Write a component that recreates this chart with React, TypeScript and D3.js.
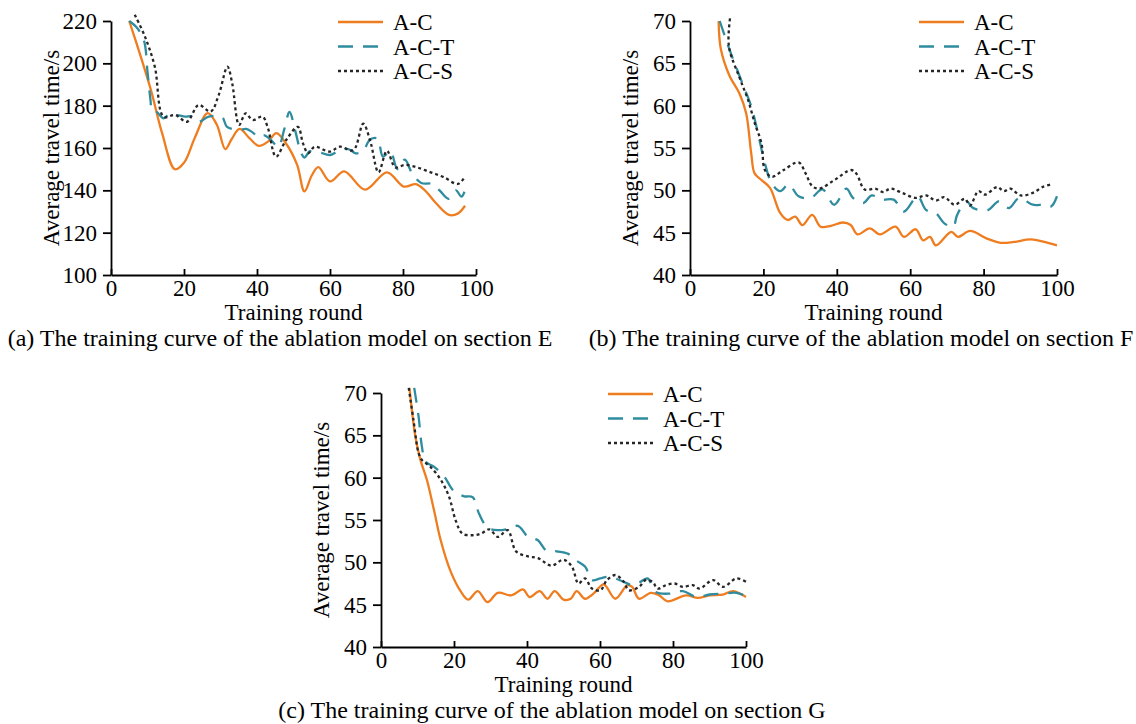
import { useEffect, useRef } from 'react'
import * as d3 from 'd3'

type Pt = [number, number]

const seriesNames = ['A-C', 'A-C-T', 'A-C-S']
const xTicks = [0, 20, 40, 60, 80, 100]
const yTicksE = [100, 120, 140, 160, 180, 200, 220]
const yTicksFG = [40, 45, 50, 55, 60, 65, 70]

// section E
const acE: Pt[] = [[5, 220], [8, 204], [11, 187], [14, 167], [17.5, 150], [20, 153], [23, 165], [26.5, 176.5], [29, 171], [31.3, 159.5], [33, 164], [35.2, 169], [38, 164.5], [40.5, 161], [43, 163], [45.3, 167], [48, 162], [51, 152], [53, 139.5], [55, 147], [56.8, 151], [60, 144.2], [63.9, 149], [69.6, 140.3], [75.6, 148.5], [80.2, 141.8], [83.5, 142.9], [86, 140], [89, 134], [92.6, 128.4], [95, 129], [97, 132.7]]
const actE: Pt[] = [[5, 220], [7, 217], [9, 211], [10, 196], [10.8, 183], [11.3, 177.5], [12.5, 177], [14.4, 174], [16, 176], [18, 175.6], [20.4, 174.8], [22, 175], [24, 172.4], [26.8, 174.8], [30.4, 174.6], [31.8, 170], [35, 168.5], [37, 169], [38.7, 167.5], [40.6, 165], [42, 166], [44, 163.5], [45.8, 160.5], [47.5, 169], [48.9, 177], [50.5, 168], [52, 158], [53, 155.5], [54.5, 158.5], [57, 158], [60, 156.7], [62.7, 159], [65, 159.5], [67, 157.5], [69, 158.5], [71, 164], [73, 164.5], [74.5, 156], [76.5, 158.5], [78.5, 150], [80.5, 154.5], [82.5, 148], [85, 143.5], [88, 143], [90, 140], [92.5, 136], [94.5, 140], [96, 137], [97, 140]]
const acsE: Pt[] = [[6.5, 223], [9.3, 212.6], [12, 198.4], [14.4, 174.8], [17.6, 175.6], [20.8, 172.4], [24, 180.3], [27.3, 177.2], [29.5, 185], [31.9, 198.4], [33.2, 190.6], [35.1, 170.9], [36.9, 176.4], [38.8, 173.2], [41.5, 174.8], [42.9, 170], [45.2, 155.9], [48, 163.8], [51.2, 170], [52.6, 162.2], [54, 157.5], [55.8, 160.6], [59.9, 158.3], [62.7, 160.6], [66.4, 159], [69.1, 171.5], [71, 163.5], [73.3, 148.5], [75.6, 158.7], [77.9, 150.8], [80.5, 152], [83.9, 150.8], [87.6, 148.5], [91.2, 146.2], [95, 143], [96.8, 146]]

// section F
const acF: Pt[] = [[7.8, 70], [8.4, 66.7], [10.7, 63.6], [13.5, 61.4], [15.3, 59.1], [16.7, 54.3], [17.6, 52], [19.5, 51.2], [21.8, 50.3], [24.6, 47.3], [26.6, 46.5], [28.7, 46.9], [30.6, 45.9], [33.3, 47.1], [35.6, 45.7], [38.4, 45.8], [41.6, 46.2], [43.8, 45.9], [45.6, 44.8], [49, 45.5], [51.8, 44.8], [56, 45.7], [58.3, 44.5], [61.5, 45.4], [63.5, 44.1], [65.4, 44.5], [67, 43.5], [71.2, 45.1], [73, 44.5], [76.3, 45.2], [80.9, 44.3], [84.6, 43.8], [88.3, 43.9], [92.9, 44.2], [97.5, 43.8], [100, 43.5]]
const actF: Pt[] = [[8.1, 70], [10.7, 66.7], [14.4, 62.5], [16.7, 59.9], [19, 55.8], [20.4, 53.2], [22.3, 50.8], [24.6, 49.9], [26.9, 50.7], [29.6, 49.3], [32.9, 49.1], [36.1, 50.1], [39.3, 48.3], [42.6, 50.2], [44.4, 49.1], [47.2, 48.5], [49.5, 49.4], [52.3, 48.9], [55.5, 48.9], [58.3, 47.5], [62, 49.3], [64.3, 47.7], [67, 47.3], [69.3, 46.1], [71.7, 45.7], [72.8, 47.1], [75.3, 48.7], [77.2, 47.9], [81.3, 47.7], [84.1, 48.7], [86.9, 47.9], [89.7, 49.1], [93.4, 48.3], [96.6, 48.3], [98.4, 48.1], [100, 49.3]]
const acsF: Pt[] = [[10.9, 70.3], [10.6, 67], [13.5, 63.3], [15.8, 60.7], [17.6, 58], [19.5, 55.5], [20.4, 52.4], [22.3, 51.6], [25.5, 52.4], [29.6, 53.3], [31.5, 52], [33.3, 50.5], [35.2, 50.2], [39.3, 51.2], [43.9, 52.4], [45.3, 52], [47.6, 50.1], [50.4, 50.2], [52.7, 49.8], [54.6, 50.2], [57.8, 49.7], [61.5, 49.1], [64.3, 49.4], [67, 48.8], [69.3, 49.2], [72.1, 48.3], [74.9, 49], [76.3, 48.2], [78.6, 49.9], [80.4, 49.5], [83.7, 50.4], [85.5, 49.9], [87.3, 50.2], [90.1, 49.4], [93.4, 49.7], [96.1, 50.4], [98.4, 50.7]]

// section G
const acG: Pt[] = [[7.8, 70.6], [9.4, 64.9], [10.8, 62.1], [12.6, 59.7], [14.5, 56.2], [16.3, 52.7], [19.1, 48.9], [21.8, 46.6], [23.9, 45.6], [26.5, 46.6], [29.2, 45.3], [32, 46.4], [35.7, 46.1], [38.9, 46.8], [40.7, 45.9], [43.5, 46.6], [45.6, 45.7], [47.6, 46.6], [50, 45.6], [52, 45.7], [53.6, 46.6], [55.9, 45.7], [58.2, 46.3], [61, 47.4], [64.2, 45.7], [67.5, 47.3], [68.8, 47.1], [70.7, 45.7], [73.9, 46.4], [76.2, 46.1], [78.5, 45.4], [83.6, 46.1], [86.8, 45.8], [90, 46.1], [93.7, 46.2], [96.5, 46.6], [100, 45.9]]
const actG: Pt[] = [[9.1, 70.6], [10.3, 67.2], [11.2, 63.7], [12.2, 61.9], [14.5, 61.3], [17.2, 60.2], [20, 58.4], [22.8, 57.8], [25.1, 57.7], [26.9, 55.7], [29.2, 54.1], [32, 53.8], [34.3, 53.9], [37.5, 54.3], [40.3, 53], [43, 52.6], [45.3, 51.4], [48.1, 51.3], [51.3, 51], [53.2, 50.3], [55.9, 49.5], [57.8, 47.9], [60.1, 48.1], [62.5, 48.3], [66.5, 47.7], [68.8, 47.3], [70.7, 47.6], [73, 48.1], [75.3, 46.5], [79, 46.3], [82.7, 46.6], [86.4, 45.9], [90, 46.2], [93.7, 46.3], [97.4, 46.4], [100, 46]]
const acsG: Pt[] = [[7.6, 70.6], [8.9, 66.8], [10.3, 62.9], [11.2, 62.1], [13.5, 61.3], [16.3, 59.8], [18.6, 57.8], [20.5, 54.9], [22.3, 53.4], [25.1, 53.2], [27.4, 53.4], [29.7, 53.9], [32, 53], [34.7, 53.8], [37, 51.3], [40.3, 50.7], [43, 50.5], [46.7, 49.6], [50, 50.3], [52.3, 49.5], [54.1, 47.5], [55.9, 48.1], [57.8, 46.9], [60.1, 46.7], [61.9, 47.9], [64.2, 48.5], [66.5, 47.7], [67.9, 46.7], [70.7, 47.1], [72.5, 47.9], [74.4, 47.7], [75.8, 46.9], [78.1, 47.3], [80.4, 47.5], [82.7, 47.1], [85.4, 47.3], [87.3, 46.9], [91, 47.9], [93.7, 47.1], [97.4, 48.1], [100, 47.7]]

const colors = ['#ef7d1f', '#2f8c9f', '#262626']
const dashes = [null, '15,10', '3,3']
const font = '"Liberation Serif", "Times New Roman", serif'
const fs = 23

const panels = [
    { left: 111, right: 476, top: 21, bottom: 275, yTicks: yTicksE, series: [acE, actE, acsE], caption: '(a) The training curve of the ablation model on section E', capX: 280 },
    { left: 690, right: 1057, top: 21, bottom: 275, yTicks: yTicksFG, series: [acF, actF, acsF], caption: '(b) The training curve of the ablation model on section F', capX: 861 },
    { left: 381, right: 746, top: 393, bottom: 647, yTicks: yTicksFG, series: [acG, actG, acsG], caption: '(c) The training curve of the ablation model on section G', capX: 552 },
]

function drawPanel(svg: any, p: any) {
    const x = d3.scaleLinear().domain([0, 100]).range([p.left, p.right])
    const y = d3.scaleLinear().domain([p.yTicks[0], p.yTicks[p.yTicks.length - 1]]).range([p.bottom, p.top])
    const g = svg.append('g')

    const line = d3.line<Pt>().x(d => x(d[0])).y(d => y(d[1])).curve(d3.curveCatmullRom.alpha(0.5))

    p.series.forEach((s: Pt[], i: number) => {
        g.append('path')
            .attr('d', line(s))
            .attr('fill', 'none')
            .attr('stroke', colors[i])
            .attr('stroke-width', 2.3)
            .attr('stroke-dasharray', dashes[i])
    })

    // y axis, ticks outward
    const yAxis = g.append('g')
        .attr('transform', `translate(${p.left},0)`)
        .call(d3.axisLeft(y).tickValues(p.yTicks).tickSizeInner(8).tickSizeOuter(0).tickPadding(6))
    // x axis, ticks inward
    const xAxis = g.append('g')
        .attr('transform', `translate(0,${p.bottom})`)
        .call(d3.axisBottom(x).tickValues(xTicks).tickSizeInner(-6).tickSizeOuter(0).tickPadding(5))

    for (const a of [xAxis, yAxis]) {
        a.selectAll('path, line').attr('stroke', '#000').attr('stroke-width', 1.8)
        a.selectAll('text').attr('fill', '#000').attr('font-size', fs).attr('font-family', font)
    }

    g.append('text')
        .attr('transform', `translate(${p.left - 60},${(p.top + p.bottom) / 2}) rotate(-90)`)
        .attr('text-anchor', 'middle')
        .attr('dy', '0.35em')
        .attr('font-size', fs)
        .attr('font-family', font)
        .text('Average travel time/s')

    g.append('text')
        .attr('x', (p.left + p.right) / 2)
        .attr('y', p.bottom + 45)
        .attr('text-anchor', 'middle')
        .attr('font-size', fs)
        .attr('font-family', font)
        .text('Training round')

    g.append('text')
        .attr('x', p.capX)
        .attr('y', p.bottom + 71)
        .attr('text-anchor', 'middle')
        .attr('font-size', 24)
        .attr('font-family', font)
        .text(p.caption)

    // legend
    const lx = p.right - 138
    seriesNames.forEach((name, i) => {
        const ry = p.top + 1 + i * 24.5
        g.append('line')
            .attr('x1', lx).attr('x2', lx + 45)
            .attr('y1', ry).attr('y2', ry)
            .attr('stroke', colors[i])
            .attr('stroke-width', 2.3)
            .attr('stroke-dasharray', dashes[i])
        g.append('text')
            .attr('x', lx + 55)
            .attr('y', ry)
            .attr('dy', '0.35em')
            .attr('font-size', fs)
            .attr('font-family', font)
            .text(name)
    })
}

export default function App() {
    const svgRef = useRef<SVGSVGElement>(null)

    useEffect(() => {
        if (!svgRef.current) return
        const svg = d3.select(svgRef.current)
        svg.selectAll('*').remove()
        panels.forEach(p => drawPanel(svg, p))
    }, [])

    return (
        <svg
            ref={svgRef}
            width={1136}
            height={724}
            style={{ position: 'absolute', left: 0, top: 0, background: '#fff' }}
        />
    )
}
